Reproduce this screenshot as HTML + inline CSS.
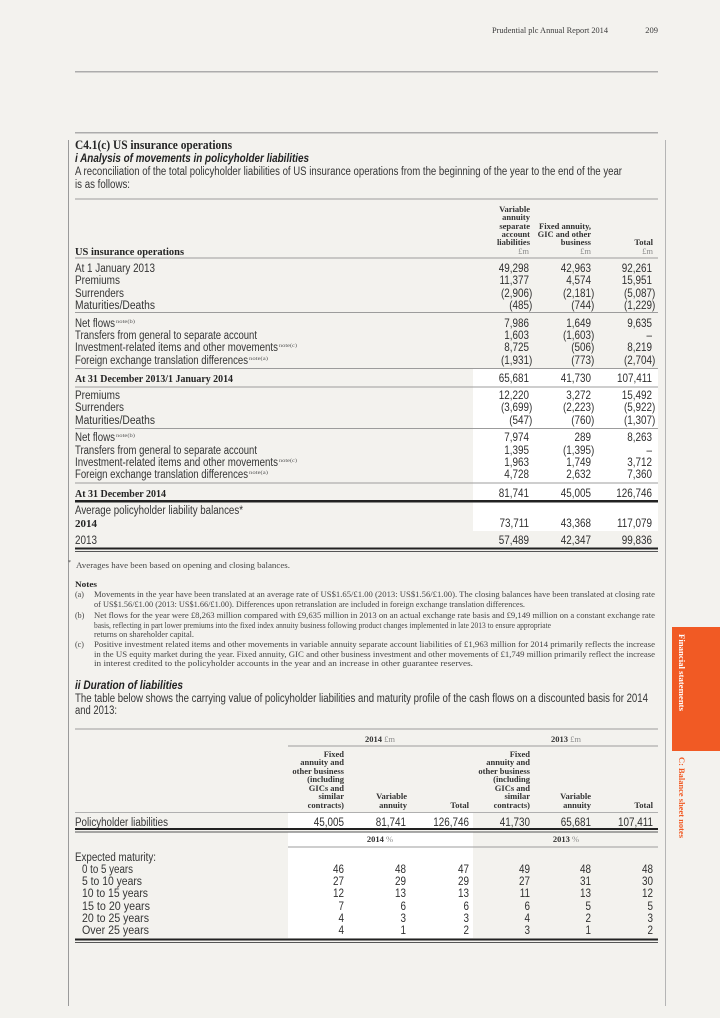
<!DOCTYPE html>
<html><head><meta charset="utf-8">
<style>
html,body{margin:0;padding:0;background:#f3f2ee;}
svg{display:block;}
.s{font-family:"Liberation Sans",sans-serif;font-size:11.5px;fill:#353535;}
.sb{font-family:"Liberation Sans",sans-serif;font-size:11.5px;font-weight:bold;font-style:italic;fill:#222;}
.h{font-family:"Liberation Serif",serif;font-size:8.5px;font-weight:bold;fill:#333;}
.hm{font-family:"Liberation Serif",serif;font-size:8.5px;fill:#8a8a8a;}
.fb{font-family:"Liberation Serif",serif;font-weight:bold;fill:#252525;}
.nt{font-family:"Liberation Serif",serif;font-size:8px;fill:#454545;}
.sup{font-family:"Liberation Serif",serif;font-size:5.5px;fill:#555;}
.n text{font-family:"Liberation Sans",sans-serif;font-size:11.5px;fill:#303030;text-anchor:end;}
.e{text-anchor:end;}
.c{text-anchor:middle;}
</style></head>
<body>
<svg width="720" height="1018" viewBox="0 0 720 1018" xmlns="http://www.w3.org/2000/svg">
<rect width="720" height="1018" fill="#f3f2ee"/>

<!-- page header -->
<text x="492" y="33" class="nt" style="font-size:8.5px;fill:#3a3a3a" textLength="116" lengthAdjust="spacingAndGlyphs">Prudential plc  Annual Report 2014</text>
<text x="658" y="33" class="nt e" style="font-size:8.5px;fill:#3a3a3a">209</text>
<rect x="75" y="71" width="583" height="1.5" fill="#acacac"/>
<rect x="75" y="132" width="583" height="1.5" fill="#acacac"/>

<!-- vertical rules -->
<rect x="68" y="140" width="1" height="866" fill="#9a9a9a"/>
<rect x="665" y="140" width="1" height="866" fill="#b5b5b5"/>

<!-- side tab -->
<rect x="672" y="627" width="48" height="124" fill="#f15a24"/>
<text transform="translate(679 634) rotate(90)" class="fb" style="font-size:8px;fill:#fff" textLength="77" lengthAdjust="spacingAndGlyphs">Financial statements</text>
<text transform="translate(679 757) rotate(90)" class="fb" style="font-size:8px;fill:#f15a24" textLength="81" lengthAdjust="spacingAndGlyphs">C: Balance sheet notes</text>

<!-- section title -->
<text x="75" y="149" class="fb" style="font-size:12.5px" textLength="157" lengthAdjust="spacingAndGlyphs">C4.1(c) US insurance operations</text>
<text x="75" y="162" class="sb" textLength="234" lengthAdjust="spacingAndGlyphs">i Analysis of movements in policyholder liabilities</text>
<text x="75" y="175" class="s" textLength="547" lengthAdjust="spacingAndGlyphs">A reconciliation of the total policyholder liabilities of US insurance operations from the beginning of the year to the end of the year</text>
<text x="75" y="188" class="s" textLength="55" lengthAdjust="spacingAndGlyphs">is as follows:</text>

<!-- table 1 white highlight -->
<rect x="473" y="369" width="185" height="162" fill="#ffffff"/>

<!-- table 1 rules -->
<rect x="75" y="198.5" width="583" height="1" fill="#9c9c9c"/>
<rect x="75" y="257.5" width="583" height="1" fill="#9c9c9c"/>
<rect x="75" y="312" width="583" height="1" fill="#9c9c9c"/>
<rect x="75" y="368" width="583" height="1" fill="#9c9c9c"/>
<rect x="75" y="386.5" width="583" height="1" fill="#9c9c9c"/>
<rect x="75" y="428" width="583" height="1" fill="#9c9c9c"/>
<rect x="75" y="482.5" width="583" height="1" fill="#9c9c9c"/>
<rect x="75" y="500" width="583" height="2.5" fill="#222"/>
<rect x="75" y="547.5" width="583" height="2" fill="#222"/>
<rect x="75" y="551" width="583" height="1" fill="#555"/>

<!-- table 1 header -->
<text x="530" y="212" class="h e">Variable</text>
<text x="530" y="220" class="h e">annuity</text>
<text x="530" y="229" class="h e">separate</text>
<text x="530" y="237" class="h e">account</text>
<text x="530" y="245" class="h e">liabilities</text>
<text x="529" y="254" class="hm e">£m</text>
<text x="591" y="229" class="h e">Fixed annuity,</text>
<text x="591" y="237" class="h e">GIC and other</text>
<text x="591" y="245" class="h e">business</text>
<text x="591" y="254" class="hm e">£m</text>
<text x="653" y="245" class="h e">Total</text>
<text x="653" y="254" class="hm e">£m</text>
<text x="75" y="255" class="fb" style="font-size:10px" textLength="109" lengthAdjust="spacingAndGlyphs">US insurance operations</text>

<!-- table 1 labels -->
<text x="75" y="272" class="s" textLength="80" lengthAdjust="spacingAndGlyphs">At 1 January 2013</text>
<text x="75" y="284" class="s" textLength="45" lengthAdjust="spacingAndGlyphs">Premiums</text>
<text x="75" y="297" class="s" textLength="49" lengthAdjust="spacingAndGlyphs">Surrenders</text>
<text x="75" y="309" class="s" textLength="80" lengthAdjust="spacingAndGlyphs">Maturities/Deaths</text>
<text x="75" y="327" class="s" textLength="40" lengthAdjust="spacingAndGlyphs">Net flows</text>
<text x="116" y="323" class="sup" textLength="19" lengthAdjust="spacingAndGlyphs">note(b)</text>
<text x="75" y="339" class="s" textLength="182" lengthAdjust="spacingAndGlyphs">Transfers from general to separate account</text>
<text x="75" y="351" class="s" textLength="203" lengthAdjust="spacingAndGlyphs">Investment-related items and other movements</text>
<text x="279" y="347" class="sup" textLength="18" lengthAdjust="spacingAndGlyphs">note(c)</text>
<text x="75" y="364" class="s" textLength="173" lengthAdjust="spacingAndGlyphs">Foreign exchange translation differences</text>
<text x="249" y="360" class="sup" textLength="19" lengthAdjust="spacingAndGlyphs">note(a)</text>
<text x="75" y="382" class="fb" style="font-size:10.5px" textLength="158" lengthAdjust="spacingAndGlyphs">At 31 December 2013/1 January 2014</text>
<text x="75" y="399" class="s" textLength="45" lengthAdjust="spacingAndGlyphs">Premiums</text>
<text x="75" y="411" class="s" textLength="49" lengthAdjust="spacingAndGlyphs">Surrenders</text>
<text x="75" y="424" class="s" textLength="80" lengthAdjust="spacingAndGlyphs">Maturities/Deaths</text>
<text x="75" y="441" class="s" textLength="40" lengthAdjust="spacingAndGlyphs">Net flows</text>
<text x="116" y="437" class="sup" textLength="19" lengthAdjust="spacingAndGlyphs">note(b)</text>
<text x="75" y="454" class="s" textLength="182" lengthAdjust="spacingAndGlyphs">Transfers from general to separate account</text>
<text x="75" y="466" class="s" textLength="203" lengthAdjust="spacingAndGlyphs">Investment-related items and other movements</text>
<text x="279" y="462" class="sup" textLength="18" lengthAdjust="spacingAndGlyphs">note(c)</text>
<text x="75" y="478" class="s" textLength="173" lengthAdjust="spacingAndGlyphs">Foreign exchange translation differences</text>
<text x="249" y="474" class="sup" textLength="19" lengthAdjust="spacingAndGlyphs">note(a)</text>
<text x="75" y="497" class="fb" style="font-size:10.5px" textLength="91" lengthAdjust="spacingAndGlyphs">At 31 December 2014</text>
<text x="75" y="514" class="s" textLength="168" lengthAdjust="spacingAndGlyphs">Average policyholder liability balances*</text>
<text x="75" y="527" class="fb" style="font-size:10.5px" textLength="22" lengthAdjust="spacingAndGlyphs">2014</text>
<text x="75" y="544" class="s" textLength="22" lengthAdjust="spacingAndGlyphs">2013</text>

<!-- table 1 numbers col 1 -->
<g class="n" transform="translate(529 0) scale(.86 1)">
<text x="0" y="272">49,298</text><text x="0" y="284">11,377</text><text x="3.8" y="297">(2,906)</text><text x="3.8" y="309">(485)</text>
<text x="0" y="327">7,986</text><text x="0" y="339">1,603</text><text x="0" y="351">8,725</text><text x="3.8" y="364">(1,931)</text>
<text x="0" y="382">65,681</text>
<text x="0" y="399">12,220</text><text x="3.8" y="411">(3,699)</text><text x="3.8" y="424">(547)</text>
<text x="0" y="441">7,974</text><text x="0" y="454">1,395</text><text x="0" y="466">1,963</text><text x="0" y="478">4,728</text>
<text x="0" y="497">81,741</text>
<text x="0" y="527">73,711</text><text x="0" y="544">57,489</text>
</g>
<g class="n" transform="translate(591 0) scale(.86 1)">
<text x="0" y="272">42,963</text><text x="0" y="284">4,574</text><text x="3.8" y="297">(2,181)</text><text x="3.8" y="309">(744)</text>
<text x="0" y="327">1,649</text><text x="3.8" y="339">(1,603)</text><text x="3.8" y="351">(506)</text><text x="3.8" y="364">(773)</text>
<text x="0" y="382">41,730</text>
<text x="0" y="399">3,272</text><text x="3.8" y="411">(2,223)</text><text x="3.8" y="424">(760)</text>
<text x="0" y="441">289</text><text x="3.8" y="454">(1,395)</text><text x="0" y="466">1,749</text><text x="0" y="478">2,632</text>
<text x="0" y="497">45,005</text>
<text x="0" y="527">43,368</text><text x="0" y="544">42,347</text>
</g>
<g class="n" transform="translate(652 0) scale(.86 1)">
<text x="0" y="272">92,261</text><text x="0" y="284">15,951</text><text x="3.8" y="297">(5,087)</text><text x="3.8" y="309">(1,229)</text>
<text x="0" y="327">9,635</text><text x="0" y="339">–</text><text x="0" y="351">8,219</text><text x="3.8" y="364">(2,704)</text>
<text x="0" y="382">107,411</text>
<text x="0" y="399">15,492</text><text x="3.8" y="411">(5,922)</text><text x="3.8" y="424">(1,307)</text>
<text x="0" y="441">8,263</text><text x="0" y="454">–</text><text x="0" y="466">3,712</text><text x="0" y="478">7,360</text>
<text x="0" y="497">126,746</text>
<text x="0" y="527">117,079</text><text x="0" y="544">99,836</text>
</g>

<!-- footnote & notes -->
<text x="68" y="564" class="nt" style="font-size:6px">*</text>
<text x="76" y="568" class="nt" textLength="214" lengthAdjust="spacingAndGlyphs">Averages have been based on opening and closing balances.</text>
<text x="75" y="587" class="fb" style="font-size:8.5px" textLength="22" lengthAdjust="spacingAndGlyphs">Notes</text>
<text x="75" y="597" class="nt">(a)</text>
<text x="94" y="597" class="nt" textLength="561" lengthAdjust="spacingAndGlyphs">Movements in the year have been translated at an average rate of US$1.65/£1.00 (2013: US$1.56/£1.00). The closing balances have been translated at closing rate</text>
<text x="94" y="607" class="nt" textLength="431" lengthAdjust="spacingAndGlyphs">of US$1.56/£1.00 (2013: US$1.66/£1.00). Differences upon retranslation are included in foreign exchange translation differences.</text>
<text x="75" y="618" class="nt">(b)</text>
<text x="94" y="618" class="nt" textLength="561" lengthAdjust="spacingAndGlyphs">Net flows for the year were £8,263 million compared with £9,635 million in 2013 on an actual exchange rate basis and £9,149 million on a constant exchange rate</text>
<text x="94" y="628" class="nt" textLength="457" lengthAdjust="spacingAndGlyphs">basis, reflecting in part lower premiums into the fixed index annuity business following product changes implemented in late 2013 to ensure appropriate</text>
<text x="94" y="637" class="nt" textLength="100" lengthAdjust="spacingAndGlyphs">returns on shareholder capital.</text>
<text x="75" y="647" class="nt">(c)</text>
<text x="94" y="647" class="nt" textLength="561" lengthAdjust="spacingAndGlyphs">Positive investment related items and other movements in variable annuity separate account liabilities of £1,963 million for 2014 primarily reflects the increase</text>
<text x="94" y="657" class="nt" textLength="561" lengthAdjust="spacingAndGlyphs">in the US equity market during the year. Fixed annuity, GIC and other business investment and other movements of £1,749 million primarily reflect the increase</text>
<text x="94" y="666" class="nt" textLength="379" lengthAdjust="spacingAndGlyphs">in interest credited to the policyholder accounts in the year and an increase in other guarantee reserves.</text>

<!-- section ii -->
<text x="75" y="689" class="sb" textLength="108" lengthAdjust="spacingAndGlyphs">ii Duration of liabilities</text>
<text x="75" y="702" class="s" textLength="573" lengthAdjust="spacingAndGlyphs">The table below shows the carrying value of policyholder liabilities and maturity profile of the cash flows on a discounted basis for 2014</text>
<text x="75" y="714" class="s" textLength="42" lengthAdjust="spacingAndGlyphs">and 2013:</text>

<!-- table 2 white highlight -->
<rect x="288" y="813" width="185" height="15" fill="#ffffff"/>
<rect x="288" y="832" width="185" height="106" fill="#ffffff"/>

<!-- table 2 rules -->
<rect x="75" y="728.5" width="583" height="1" fill="#9c9c9c"/>
<rect x="288" y="745.5" width="370" height="1" fill="#9c9c9c"/>
<rect x="75" y="812" width="583" height="1" fill="#b0b0b0"/>
<rect x="75" y="828" width="583" height="2" fill="#222"/>
<rect x="75" y="831.5" width="583" height="1" fill="#555"/>
<rect x="288" y="846.5" width="370" height="1" fill="#9c9c9c"/>
<rect x="75" y="938.5" width="583" height="2" fill="#222"/>
<rect x="75" y="942" width="583" height="1" fill="#555"/>

<!-- table 2 header -->
<text x="380" y="742" class="h c">2014 <tspan class="hm" style="font-weight:normal">£m</tspan></text>
<text x="566" y="742" class="h c">2013 <tspan class="hm" style="font-weight:normal">£m</tspan></text>
<g class="h">
<text x="344" y="757" class="h e">Fixed</text>
<text x="344" y="765" class="h e">annuity and</text>
<text x="344" y="774" class="h e">other business</text>
<text x="344" y="782" class="h e">(including</text>
<text x="344" y="791" class="h e">GICs and</text>
<text x="344" y="799" class="h e">similar</text>
<text x="344" y="808" class="h e">contracts)</text>
<text x="407" y="799" class="h e">Variable</text>
<text x="407" y="808" class="h e">annuity</text>
<text x="469" y="808" class="h e">Total</text>
<text x="530" y="757" class="h e">Fixed</text>
<text x="530" y="765" class="h e">annuity and</text>
<text x="530" y="774" class="h e">other business</text>
<text x="530" y="782" class="h e">(including</text>
<text x="530" y="791" class="h e">GICs and</text>
<text x="530" y="799" class="h e">similar</text>
<text x="530" y="808" class="h e">contracts)</text>
<text x="591" y="799" class="h e">Variable</text>
<text x="591" y="808" class="h e">annuity</text>
<text x="653" y="808" class="h e">Total</text>
</g>
<text x="380" y="842" class="h c">2014 <tspan class="hm" style="font-weight:normal">%</tspan></text>
<text x="566" y="842" class="h c">2013 <tspan class="hm" style="font-weight:normal">%</tspan></text>

<!-- table 2 labels -->
<text x="75" y="826" class="s" textLength="93" lengthAdjust="spacingAndGlyphs">Policyholder liabilities</text>
<text x="75" y="861" class="s" textLength="81" lengthAdjust="spacingAndGlyphs">Expected maturity:</text>
<text x="82" y="873" class="s" textLength="51" lengthAdjust="spacingAndGlyphs">0 to 5 years</text>
<text x="82" y="885" class="s" textLength="60" lengthAdjust="spacingAndGlyphs">5 to 10 years</text>
<text x="82" y="897" class="s" textLength="66" lengthAdjust="spacingAndGlyphs">10 to 15 years</text>
<text x="82" y="910" class="s" textLength="68" lengthAdjust="spacingAndGlyphs">15 to 20 years</text>
<text x="82" y="922" class="s" textLength="67" lengthAdjust="spacingAndGlyphs">20 to 25 years</text>
<text x="82" y="934" class="s" textLength="67" lengthAdjust="spacingAndGlyphs">Over 25 years</text>

<!-- table 2 numbers -->
<g class="n" transform="translate(344 0) scale(.86 1)">
<text x="0" y="826">45,005</text><text x="0" y="873">46</text><text x="0" y="885">27</text><text x="0" y="897">12</text><text x="0" y="910">7</text><text x="0" y="922">4</text><text x="0" y="934">4</text>
</g>
<g class="n" transform="translate(406 0) scale(.86 1)">
<text x="0" y="826">81,741</text><text x="0" y="873">48</text><text x="0" y="885">29</text><text x="0" y="897">13</text><text x="0" y="910">6</text><text x="0" y="922">3</text><text x="0" y="934">1</text>
</g>
<g class="n" transform="translate(469 0) scale(.86 1)">
<text x="0" y="826">126,746</text><text x="0" y="873">47</text><text x="0" y="885">29</text><text x="0" y="897">13</text><text x="0" y="910">6</text><text x="0" y="922">3</text><text x="0" y="934">2</text>
</g>
<g class="n" transform="translate(530 0) scale(.86 1)">
<text x="0" y="826">41,730</text><text x="0" y="873">49</text><text x="0" y="885">27</text><text x="0" y="897">11</text><text x="0" y="910">6</text><text x="0" y="922">4</text><text x="0" y="934">3</text>
</g>
<g class="n" transform="translate(591 0) scale(.86 1)">
<text x="0" y="826">65,681</text><text x="0" y="873">48</text><text x="0" y="885">31</text><text x="0" y="897">13</text><text x="0" y="910">5</text><text x="0" y="922">2</text><text x="0" y="934">1</text>
</g>
<g class="n" transform="translate(653 0) scale(.86 1)">
<text x="0" y="826">107,411</text><text x="0" y="873">48</text><text x="0" y="885">30</text><text x="0" y="897">12</text><text x="0" y="910">5</text><text x="0" y="922">3</text><text x="0" y="934">2</text>
</g>
</svg>
</body></html>
